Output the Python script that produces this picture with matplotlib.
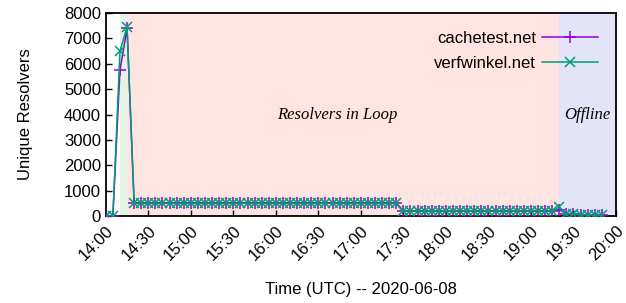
import numpy as np
import pandas as pd
import matplotlib
matplotlib.use("Agg")
import matplotlib.pyplot as plt
import matplotlib.dates as mdates

# %% Dados ------------------------------------------------------

tempo = pd.date_range("2020-06-08 14:00", "2020-06-08 19:50", freq="5min")

cachetest = ([0, 0, 5750, 7400]
             + [500] * 38
             + [200] * 22
             + [250]
             + [100, 80, 60, 50, 40, 30])

verfwinkel = ([0, 0, 6500, 7450]
              + [500] * 38
              + [200] * 22
              + [350]
              + [100, 80, 60, 50, 40, 30])

fases = [("2020-06-08 14:10", "2020-06-08 14:15", "#e4f4e4"),
         ("2020-06-08 14:15", "2020-06-08 19:20", "#ffe4e1"),
         ("2020-06-08 19:20", "2020-06-08 20:00", "#e4e4f8")]

rotulos = [("Resolvers in Loop", "2020-06-08 16:43", 4000),
           ("Offline", "2020-06-08 19:40", 4000)]

# %% Plot -------------------------------------------------------

plt.rcParams['font.family'] = ['Liberation Sans', 'DejaVu Sans']
plt.rcParams['font.size'] = 12

fig = plt.figure(figsize=(6.26, 3.03), dpi=100)
ax = fig.add_axes([0.169, 0.287, 0.815, 0.670])

for ini, fim, cor in fases:
    ax.axvspan(pd.Timestamp(ini), pd.Timestamp(fim), color=cor, lw=0, zorder=0)

ax.plot(tempo, cachetest, '-', color='#9400d3', marker='+', ms=8, mew=1.1,
        lw=1.1, label='cachetest.net', zorder=3)
ax.plot(tempo, verfwinkel, '-', color='#009e73', marker='x', ms=7, mew=1.1,
        lw=1.1, label='verfwinkel.net', zorder=4)

for txt, x, y in rotulos:
    ax.text(pd.Timestamp(x), y, txt, ha='center', va='center',
            family=['Liberation Serif'], style='italic', fontsize=12)

ax.set_xlim(pd.Timestamp("2020-06-08 14:00"), pd.Timestamp("2020-06-08 20:00"))
ax.set_ylim(0, 8000)
ax.set_yticks(np.arange(0, 8001, 1000))
ax.xaxis.set_major_locator(mdates.MinuteLocator(byminute=[0, 30]))
ax.xaxis.set_major_formatter(mdates.DateFormatter('%H:%M'))
for lbl in ax.get_xticklabels():
    lbl.set_rotation(45)
    lbl.set_ha('right')
    lbl.set_rotation_mode('anchor')

ax.tick_params(axis='both', direction='in', length=4, width=1, labelsize=12)
ax.tick_params(axis='x', pad=5)
for s in ax.spines.values():
    s.set_linewidth(1.3)

ax.set_xlabel('Time (UTC) -- 2020-06-08', labelpad=14)
ax.set_ylabel('Unique Resolvers', labelpad=22)

ax.legend(loc='upper right', frameon=False, markerfirst=False,
          handlelength=3.4, handletextpad=0.35, labelspacing=0.6,
          bbox_to_anchor=(0.995, 0.985))

fig.savefig('out.png', dpi=100)
